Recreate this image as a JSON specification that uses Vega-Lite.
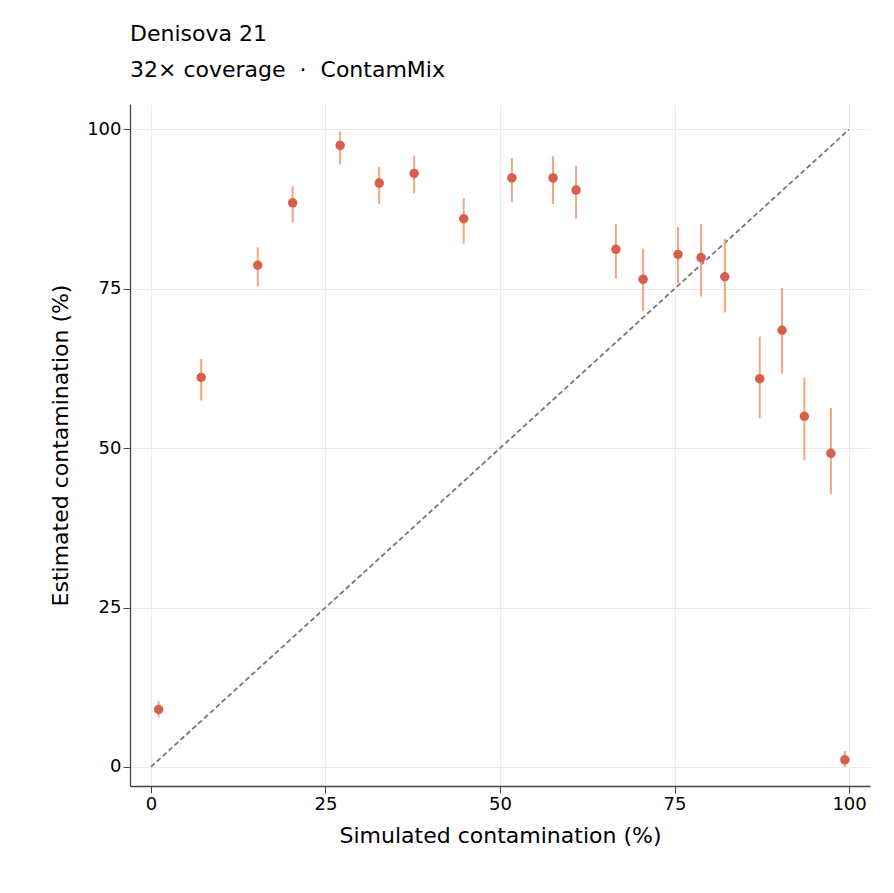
{
  "$schema": "https://vega.github.io/schema/vega-lite/v6.json",
  "width": 740,
  "height": 682,
  "autosize": "none",
  "padding": {"left": 130, "top": 104, "right": 24, "bottom": 107},
  "background": "white",
  "title": {
    "text": "Denisova 21",
    "subtitle": "32\u00d7 coverage \u00a0\u00b7\u00a0 ContamMix",
    "anchor": "start",
    "frame": "group",
    "font": "DejaVu Sans",
    "subtitleFont": "DejaVu Sans",
    "fontSize": 22,
    "subtitleFontSize": 22,
    "fontWeight": "normal",
    "color": "black",
    "subtitleColor": "black",
    "subtitlePadding": 14,
    "offset": 22
  },
  "config": {
    "view": {"stroke": null},
    "axis": {
      "labelFont": "DejaVu Sans",
      "titleFont": "DejaVu Sans",
      "labelFontSize": 18,
      "titleFontSize": 22,
      "titleFontWeight": "normal",
      "labelColor": "black",
      "titleColor": "black",
      "domain": true,
      "domainColor": "#444",
      "domainWidth": 1.3,
      "tickColor": "#444",
      "tickSize": 7,
      "gridColor": "#ebebeb"
    }
  },
  "datasets": {
    "pts": [
      {"sim": 1.1, "est": 9.0, "lo": 7.8, "hi": 10.3},
      {"sim": 7.2, "est": 61.1, "lo": 57.5, "hi": 64.0},
      {"sim": 15.3, "est": 78.7, "lo": 75.4, "hi": 81.5},
      {"sim": 20.3, "est": 88.5, "lo": 85.4, "hi": 91.1},
      {"sim": 27.1, "est": 97.5, "lo": 94.5, "hi": 99.7},
      {"sim": 32.7, "est": 91.6, "lo": 88.3, "hi": 94.1},
      {"sim": 37.7, "est": 93.1, "lo": 90.0, "hi": 95.9},
      {"sim": 44.8, "est": 86.0, "lo": 82.1, "hi": 89.2},
      {"sim": 51.7, "est": 92.4, "lo": 88.6, "hi": 95.5},
      {"sim": 57.6, "est": 92.4, "lo": 88.3, "hi": 95.8},
      {"sim": 60.9, "est": 90.5, "lo": 86.0, "hi": 94.3},
      {"sim": 66.6, "est": 81.2, "lo": 76.6, "hi": 85.2},
      {"sim": 70.5, "est": 76.5, "lo": 71.5, "hi": 81.3},
      {"sim": 75.5, "est": 80.4, "lo": 75.9, "hi": 84.7},
      {"sim": 78.8, "est": 79.9, "lo": 73.8, "hi": 85.2},
      {"sim": 82.2, "est": 76.9, "lo": 71.3, "hi": 82.9},
      {"sim": 87.2, "est": 60.9, "lo": 54.7, "hi": 67.5},
      {"sim": 90.4, "est": 68.5, "lo": 61.7, "hi": 75.1},
      {"sim": 93.6, "est": 55.0, "lo": 48.1, "hi": 61.1},
      {"sim": 97.4, "est": 49.2, "lo": 42.8, "hi": 56.3},
      {"sim": 99.4, "est": 1.1, "lo": 0.0, "hi": 2.5}
    ],
    "diag": [{"x": 0, "y": 0}, {"x": 100, "y": 100}]
  },
  "layer": [
    {
      "data": {"name": "diag"},
      "mark": {"type": "line", "color": "#777", "strokeDash": [5, 3], "strokeWidth": 1.8},
      "encoding": {
        "x": {"field": "x", "type": "quantitative", "title": "Simulated contamination (%)",
              "scale": {"domain": [-3, 103], "nice": false, "zero": false},
              "axis": {"grid": true, "values": [0, 25, 50, 75, 100], "titlePadding": 12}},
        "y": {"field": "y", "type": "quantitative", "title": "Estimated contamination (%)",
              "scale": {"domain": [-3, 104], "nice": false, "zero": false},
              "axis": {"grid": true, "values": [0, 25, 50, 75, 100], "titlePadding": 14}}
      }
    },
    {
      "data": {"name": "pts"},
      "mark": {"type": "rule", "color": "#f4a582", "strokeWidth": 2},
      "encoding": {
        "x": {"field": "sim", "type": "quantitative"},
        "y": {"field": "lo", "type": "quantitative"},
        "y2": {"field": "hi"}
      }
    },
    {
      "data": {"name": "pts"},
      "mark": {"type": "circle", "color": "#d6604d", "opacity": 1, "size": 90},
      "encoding": {
        "x": {"field": "sim", "type": "quantitative"},
        "y": {"field": "est", "type": "quantitative"}
      }
    }
  ]
}
